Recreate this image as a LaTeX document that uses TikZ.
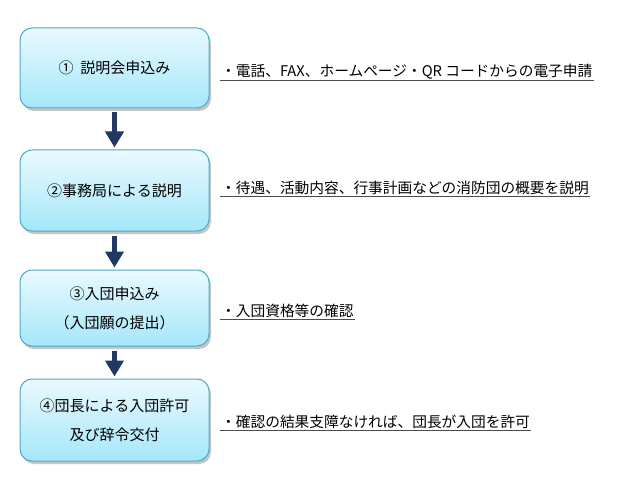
\documentclass[tikz,border=0pt]{standalone}
\usepackage{fontspec}
\setmainfont{Noto Sans CJK JP}
\usetikzlibrary{arrows.meta,shadows}
\definecolor{boxline}{RGB}{75,172,198}
\definecolor{boxtop}{RGB}{234,249,254}
\definecolor{boxbottom}{RGB}{165,231,250}
\definecolor{navy}{RGB}{31,56,100}
\tikzset{
  stepbox/.style={draw=boxline,line width=1pt,rounded corners=12pt,
    top color=boxtop,bottom color=boxbottom,minimum width=189pt,
    align=center,font=\fontsize{15}{29}\selectfont,
    drop shadow={shadow xshift=2pt,shadow yshift=-3pt,fill=black!45,opacity=.5}},
  flow/.style={navy,line width=5pt,-{Triangle[width=18pt,length=16pt]},
    shorten <=4pt,shorten >=2pt},
  note/.style={anchor=west,inner xsep=1pt,inner ysep=1pt,font=\fontsize{14.7}{16}\selectfont},
  uline/.style={draw=black!70,line width=1pt}
}
\begin{document}
\begin{tikzpicture}[x=1pt,y=-1pt]
        \useasboundingbox[fill=white] (0,0) rectangle (635,500);
        % steps
        \node[stepbox,minimum height=80pt] (box1) at (114.5,68) {①\ \ 説明会申込み};
        \node[stepbox,minimum height=81pt] (box2) at (114.5,190.5) {②事務局による説明};
        \node[stepbox,minimum height=76pt] (box3) at (114.5,308) {③入団申込み\\（入団願の提出）};
        \node[stepbox,minimum height=82pt] (box4) at (114.5,420) {④団長による入団許可\\及び辞令交付};
        \draw[flow] (box1) -- (box2);
        \draw[flow] (box2) -- (box3);
        \draw[flow] (box3) -- (box4);
        % notes
        \node[note] (note1) at (220,72) {・電話、FAX、ホームページ・QR コードからの電子申請};
        \node[note] (note2) at (220,188) {・待遇、活動内容、行事計画などの消防団の概要を説明};
        \node[note] (note3) at (220,311) {・入団資格等の確認};
        \node[note] (note4) at (220,422) {・確認の結果支障なければ、団長が入団を許可};
        \draw[uline] (note1.south west) -- (note1.south east);
        \draw[uline] (note2.south west) -- (note2.south east);
        \draw[uline] (note3.south west) -- (note3.south east);
        \draw[uline] (note4.south west) -- (note4.south east);
        \end{tikzpicture}
\end{document}
